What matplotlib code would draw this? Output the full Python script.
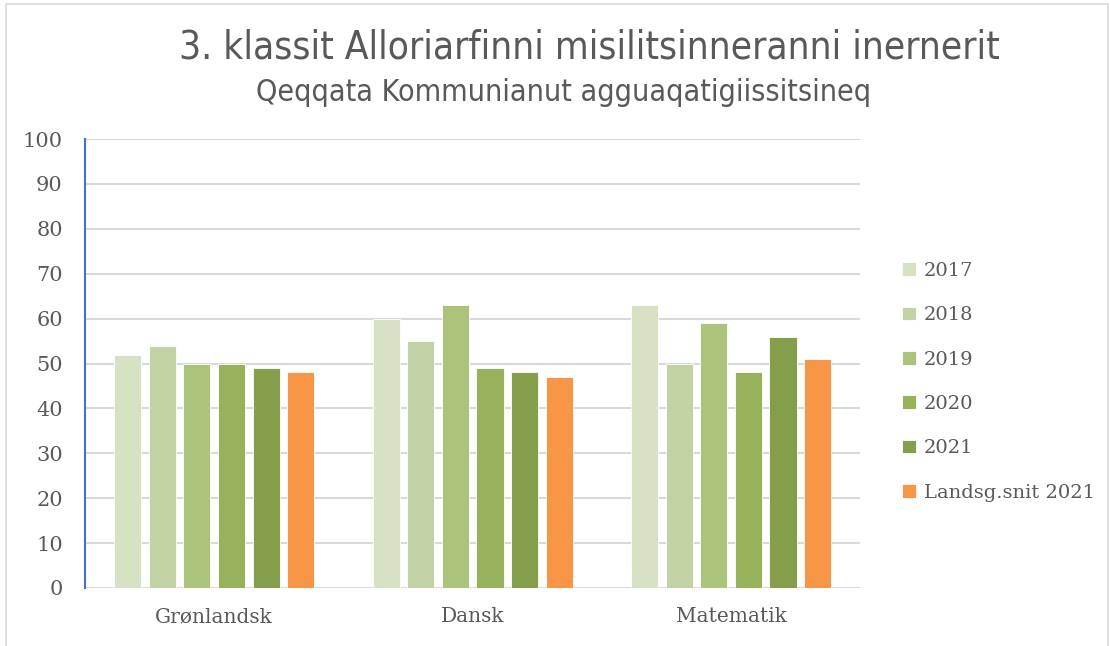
import numpy as np
import matplotlib
matplotlib.use("Agg")
import matplotlib.pyplot as plt
from matplotlib.patches import Rectangle

# data
categories = ["Grønlandsk", "Dansk", "Matematik"]
series_names = ["2017", "2018", "2019", "2020", "2021", "Landsg.snit 2021"]
values = [
    [52, 60, 63],   # 2017
    [54, 55, 50],   # 2018
    [50, 63, 59],   # 2019
    [50, 49, 48],   # 2020
    [49, 48, 56],   # 2021
    [48, 47, 51],   # Landsg.snit 2021
]
colors = ["#D7E1C4", "#C3D2A5", "#ABC37B", "#97B25A", "#859E4B", "#F79646"]
yticks = [0, 10, 20, 30, 40, 50, 60, 70, 80, 90, 100]

text_color = "#595959"
tick_font = "DejaVu Serif"

fig = plt.figure(figsize=(11.1, 6.46), dpi=100)
ax = fig.add_axes([0.0766, 0.0898, 0.6984, 0.695])

x = np.arange(len(categories))
pitch = 0.134
width = 0.105
for i, (name, vals, c) in enumerate(zip(series_names, values, colors)):
    ax.bar(x + (i - 2.5) * pitch, vals, width, color=c, label=name,
           edgecolor="white", linewidth=0.6, zorder=3)

ax.set_xlim(-0.5, 2.5)
ax.set_ylim(0, 100)
ax.set_yticks(yticks)
ax.set_xticks(x)
ax.set_xticklabels(categories)
ax.grid(axis="y", color="#D9D9D9", linewidth=1.5, zorder=0)
ax.tick_params(length=0, colors=text_color, labelsize=15, pad=16)
ax.tick_params(axis="x", labelsize=14.5, pad=14)
for lbl in ax.get_xticklabels() + ax.get_yticklabels():
    lbl.set_fontfamily(tick_font)
for s in ["top", "right", "bottom"]:
    ax.spines[s].set_visible(False)
ax.spines["left"].set_color("#4472C4")
ax.spines["left"].set_linewidth(1.5)

leg = ax.legend(loc="upper left", bbox_to_anchor=(0.797, 0.622), bbox_transform=fig.transFigure,
                frameon=False, handlelength=0.7, handleheight=0.7, handletextpad=0.4,
                labelspacing=1.36, prop={"family": tick_font, "size": 14})
for t in leg.get_texts():
    t.set_color(text_color)

fig.text(0.531, 0.909, "3. klassit Alloriarfinni misilitsinneranni inernerit", ha="center",
         va="baseline", fontsize=27.8, color=text_color, family="DejaVu Sans", fontstretch="condensed")
fig.text(0.508, 0.843, "Qeqqata Kommunianut agguaqatigiissitsineq", ha="center",
         va="baseline", fontsize=21.8, color=text_color, family="DejaVu Sans", fontstretch="condensed")

# outer frame of the chart area
fig.patches.append(Rectangle((0.005, -0.01), 0.993, 1.004, transform=fig.transFigure,
                             fill=False, edgecolor="#D9D9D9", linewidth=1.2))

fig.savefig("out.png", dpi=100)
